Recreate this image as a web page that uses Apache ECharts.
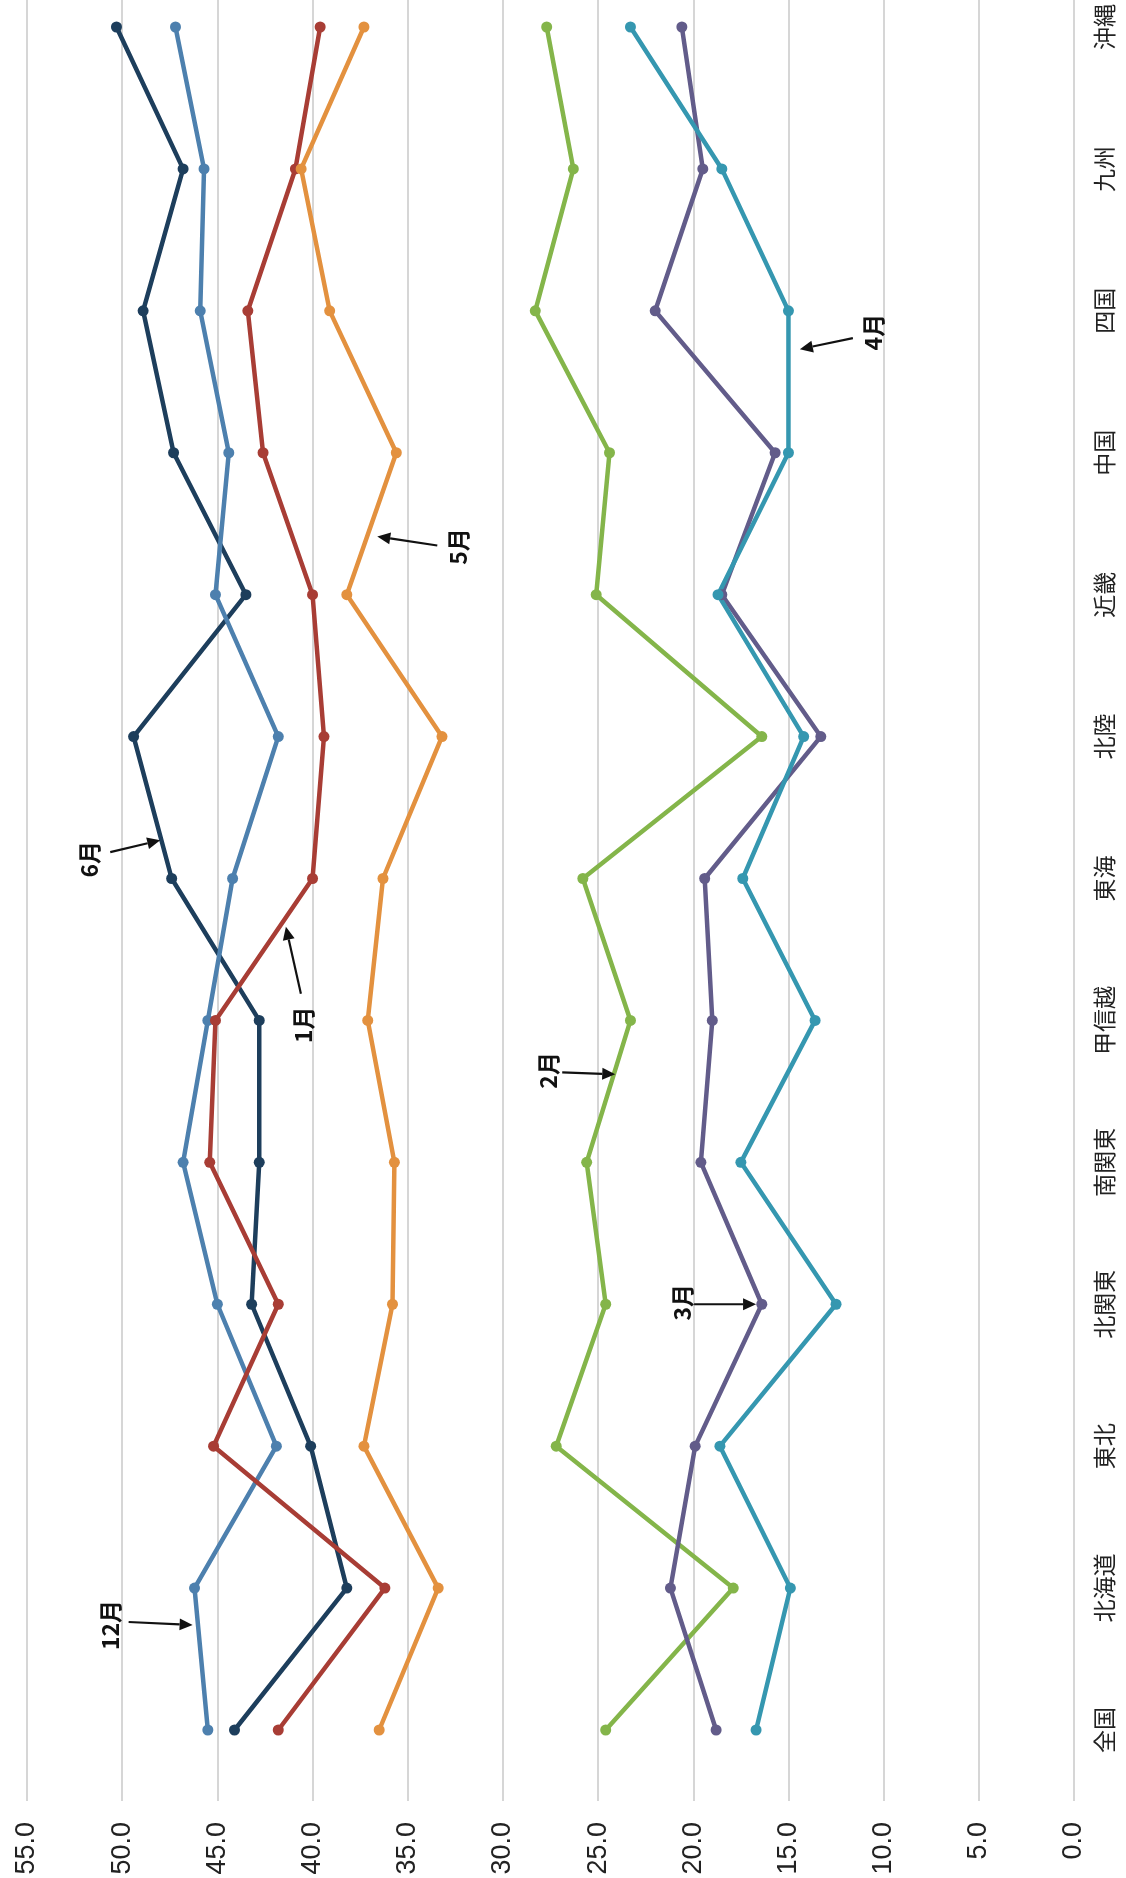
<!DOCTYPE html>
<html>
<head>
<meta charset="utf-8">
<script src="https://cdn.jsdelivr.net/npm/echarts@6/dist/echarts.min.js"></script>
<style>
  html, body { margin: 0; padding: 0; background: #fff; }
  #chart { width: 1126px; height: 1878px; }
</style>
</head>
<body>
<div id="chart"></div>
<script>
  // 地域（下から上へ）
  const regions = ['全国', '北海道', '東北', '北関東', '南関東', '甲信越', '東海', '北陸', '近畿', '中国', '四国', '九州', '沖縄']

  // 月別の値
  const jun = [44.1, 38.2, 40.1, 43.2, 42.8, 42.8, 47.4, 49.4, 43.5, 47.3, 48.9, 46.8, 50.3]
  const dec = [45.5, 46.2, 41.9, 45.0, 46.8, 45.5, 44.2, 41.8, 45.1, 44.4, 45.9, 45.7, 47.2]
  const jan = [41.8, 36.2, 45.2, 41.8, 45.4, 45.1, 40.0, 39.4, 40.0, 42.6, 43.4, 40.9, 39.6]
  const may = [36.5, 33.4, 37.3, 35.8, 35.7, 37.1, 36.3, 33.2, 38.2, 35.6, 39.1, 40.6, 37.3]
  const feb = [24.6, 17.9, 27.2, 24.6, 25.6, 23.3, 25.8, 16.4, 25.1, 24.4, 28.3, 26.3, 27.7]
  const mar = [18.8, 21.2, 19.9, 16.4, 19.6, 19.0, 19.4, 13.3, 18.5, 15.7, 22.0, 19.5, 20.6]
  const apr = [16.7, 14.9, 18.6, 12.5, 17.5, 13.6, 17.4, 14.2, 18.7, 15.0, 15.0, 18.5, 23.3]

  const monthNames = ['6月', '12月', '1月', '5月', '2月', '3月', '4月']

  // 矢印付きラベル（先端はデータ座標、尾とラベルは先端からのピクセル差）
  const notes = [
    { text: '12月', value: 46.3, idx: 0.74, tail: [-64, -3], label: [-82, 0] },
    { text: '6月', value: 48.0, idx: 6.27, tail: [-50, 12], label: [-71, 19] },
    { text: '1月', value: 41.4, idx: 5.66, tail: [15, 67], label: [17, 98] },
    { text: '5月', value: 36.6, idx: 8.41, tail: [60, 9], label: [81, 10] },
    { text: '2月', value: 24.1, idx: 4.62, tail: [-53, -2], label: [-67, -4] },
    { text: '3月', value: 16.7, idx: 3, tail: [-62, 0], label: [-74, -2] },
    { text: '4月', value: 14.4, idx: 9.73, tail: [53, -11], label: [73, -17] }
  ]

  const chart = echarts.init(document.getElementById('chart'), null, { renderer: 'canvas' })

  const makeLine = (name, data, color) => ({
    name: name,
    type: 'line',
    xAxisIndex: 0,
    yAxisIndex: 0,
    data: data,
    symbol: 'circle',
    symbolSize: 11,
    lineStyle: { width: 4.5, color: color },
    itemStyle: { color: color },
    z: 3
  })

  const option = {
    backgroundColor: '#fff',
    animation: false,
    grid: [
      // データ用
      { left: 27, right: 52, top: 27, bottom: 148 },
      // 目盛り線用（下端まで伸ばす）
      { left: 27, right: 52, top: 0, bottom: 77 }
    ],
    xAxis: [
      {
        gridIndex: 0,
        type: 'value',
        inverse: true,
        min: 0,
        max: 55,
        interval: 5,
        axisLine: { show: false },
        axisTick: { show: false },
        splitLine: { show: false },
        axisLabel: { show: false }
      },
      {
        gridIndex: 1,
        type: 'value',
        inverse: true,
        min: 0,
        max: 55,
        interval: 5,
        axisLine: { show: false },
        axisTick: { show: false },
        splitLine: { lineStyle: { color: '#d6d6d6', width: 2 } },
        axisLabel: {
          rotate: 90,
          margin: 21,
          fontSize: 27,
          fontFamily: 'Liberation Sans',
          color: '#222',
          formatter: v => v.toFixed(1)
        }
      }
    ],
    yAxis: [
      {
        gridIndex: 0,
        type: 'category',
        data: regions,
        position: 'right',
        boundaryGap: false,
        axisLine: { show: false },
        axisTick: { show: false },
        splitLine: { show: false },
        axisLabel: {
          rotate: 90,
          margin: 19,
          fontSize: 23,
          fontFamily: 'Noto Sans CJK JP',
          color: '#222',
          align: 'center',
          verticalAlign: 'top'
        }
      },
      {
        gridIndex: 1,
        type: 'value',
        min: 0,
        max: 1,
        show: false
      }
    ],
    series: [
      makeLine(monthNames[0], jun, '#1d3e5c'),
      makeLine(monthNames[1], dec, '#4d80ae'),
      makeLine(monthNames[2], jan, '#a83d35'),
      makeLine(monthNames[3], may, '#e3913f'),
      makeLine(monthNames[4], feb, '#84b54a'),
      makeLine(monthNames[5], mar, '#625c8a'),
      makeLine(monthNames[6], apr, '#3597b0')
    ]
  }

  chart.setOption(option)

  // データ座標 → ピクセル（カテゴリ間は線形補間）
  function toPx (value, idx) {
    const x = chart.convertToPixel({ xAxisIndex: 0 }, value)
    const i0 = Math.floor(idx)
    const i1 = Math.min(i0 + 1, regions.length - 1)
    const y0 = chart.convertToPixel({ yAxisIndex: 0 }, i0)
    const y1 = chart.convertToPixel({ yAxisIndex: 0 }, i1)
    return [x, y0 + (y1 - y0) * (idx - i0)]
  }

  const graphics = []
  notes.forEach(n => {
    const tip = toPx(n.value, n.idx)
    const tail = [tip[0] + n.tail[0], tip[1] + n.tail[1]]
    const dx = tip[0] - tail[0]
    const dy = tip[1] - tail[1]
    const len = Math.sqrt(dx * dx + dy * dy)
    const ux = dx / len
    const uy = dy / len
    const head = 13
    const half = 6
    const bx = tip[0] - ux * head
    const by = tip[1] - uy * head
    graphics.push({
      type: 'line',
      shape: { x1: tail[0], y1: tail[1], x2: bx, y2: by },
      style: { stroke: '#111', lineWidth: 2.2 },
      z: 100
    })
    graphics.push({
      type: 'polygon',
      shape: { points: [tip, [bx - uy * half, by + ux * half], [bx + uy * half, by - ux * half]] },
      style: { fill: '#111' },
      z: 100
    })
    graphics.push({
      type: 'text',
      x: tip[0] + n.label[0],
      y: tip[1] + n.label[1],
      rotation: Math.PI / 2,
      style: {
        text: n.text,
        fontSize: 23,
        fontWeight: 'bold',
        fontFamily: 'Noto Sans CJK JP',
        fill: '#111',
        align: 'center',
        verticalAlign: 'middle'
      },
      z: 100
    })
  })

  chart.setOption({ graphic: graphics })
</script>
</body>
</html>
